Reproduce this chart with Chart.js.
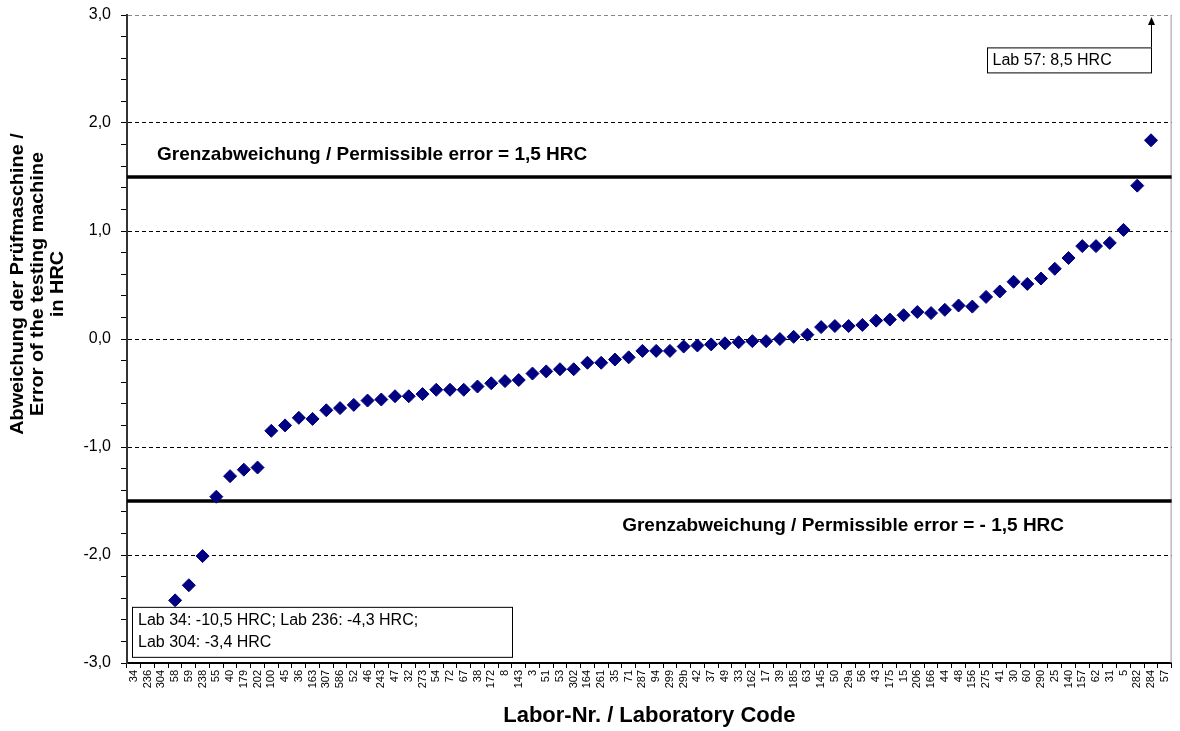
<!DOCTYPE html>
<html>
<head>
<meta charset="utf-8">
<script src="https://cdn.jsdelivr.net/npm/chart.js@4.4.1/dist/chart.umd.min.js"></script>
<style>
  html, body { margin: 0; padding: 0; background: #fff; }
  #wrap { width: 1180px; height: 731px; }
</style>
</head>
<body>
<div id="wrap"><canvas id="errChart" width="1180" height="731"></canvas></div>
<script>
// lab codes, in the order shown on the x axis
const labs = ["34","236","304","58","59","238","55","40","179","202",
  "100","45","36","163","307","586","52","46","243","47",
  "32","273","54","72","67","38","172","8","143","3",
  "51","53","302","164","261","35","71","287","94","299",
  "29b","42","37","49","33","162","17","39","185","63",
  "145","50","29a","56","43","175","15","206","166","44",
  "48","156","275","41","30","60","290","25","140","157",
  "62","31","5","282","284","57"];

// error in HRC (null = outside the plotted range, see notes)
const deviation = [null,null,null,-2.42,-2.28,-2.01,-1.46,-1.27,-1.21,-1.19,
  -0.85,-0.80,-0.73,-0.74,-0.66,-0.64,-0.61,-0.57,-0.56,-0.53,
  -0.53,-0.51,-0.47,-0.47,-0.47,-0.44,-0.41,-0.39,-0.38,-0.32,
  -0.30,-0.28,-0.28,-0.22,-0.22,-0.19,-0.17,-0.11,-0.11,-0.11,
  -0.07,-0.06,-0.05,-0.04,-0.03,-0.02,-0.02,0.00,0.02,0.04,
  0.11,0.12,0.12,0.13,0.17,0.18,0.22,0.25,0.24,0.27,
  0.31,0.30,0.39,0.44,0.53,0.51,0.56,0.65,0.75,0.86,
  0.86,0.89,1.01,1.42,1.84,null];

const limit = 1.5;
const yTitle = ["Abweichung der Prüfmaschine /", "Error of the testing machine", "in HRC"];
const xTitle = "Labor-Nr. / Laboratory Code";
const lowNote = ["Lab 34: -10,5 HRC; Lab 236: -4,3 HRC;", "Lab 304: -3,4 HRC"];
const highNote = "Lab 57: 8,5 HRC";

const isMajor = (v) => Math.abs(v - Math.round(v)) < 1e-6;

// limit lines, their captions, the notes and the y title
const extras = {
  id: "extras",
  beforeDatasetsDraw(chart) {
    const { ctx, chartArea: a, scales } = chart;
    const y = scales.y;
    ctx.save();
    // right frame
    ctx.strokeStyle = "#999";
    ctx.lineWidth = 1;
    ctx.beginPath();
    ctx.moveTo(a.right - 0.5, a.top);
    ctx.lineTo(a.right - 0.5, a.bottom);
    ctx.stroke();
    // permissible error lines
    ctx.strokeStyle = "#000";
    ctx.lineWidth = 3.5;
    [limit, -limit].forEach((v) => {
      const py = y.getPixelForValue(v);
      ctx.beginPath();
      ctx.moveTo(a.left, py);
      ctx.lineTo(a.right, py);
      ctx.stroke();
    });
    ctx.restore();
  },
  afterDatasetsDraw(chart) {
    const { ctx, chartArea: a, scales } = chart;
    const x = scales.x, y = scales.y;
    ctx.save();
    ctx.fillStyle = "#000";
    ctx.font = "bold 19px 'Liberation Sans', Arial, sans-serif";
    ctx.textBaseline = "middle";
    ctx.textAlign = "left";
    ctx.fillText("Grenzabweichung / Permissible error = 1,5 HRC", a.left + 30, y.getPixelForValue(limit) - 22);
    ctx.textAlign = "center";
    ctx.fillText("Grenzabweichung / Permissible error = - 1,5 HRC", x.getPixelForValue(51.6), y.getPixelForValue(-limit) + 25);

    // note box for the low outliers
    ctx.font = "16px 'Liberation Sans', Arial, sans-serif";
    ctx.textAlign = "left";
    ctx.lineWidth = 1;
    ctx.strokeStyle = "#000";
    const bx = a.left + 5, by = y.getPixelForValue(-2.48);
    ctx.fillStyle = "#fff";
    ctx.fillRect(bx, by, 380, 50);
    ctx.strokeRect(bx + 0.5, by + 0.5, 380, 50);
    ctx.fillStyle = "#000";
    ctx.fillText(lowNote[0], bx + 6, by + 14);
    ctx.fillText(lowNote[1], bx + 6, by + 36);

    // note box + arrow for lab 57
    const ax = Math.round(x.getPixelForValue(74.0)) + 0.5;
    const ty = y.getPixelForValue(2.7);
    ctx.fillStyle = "#fff";
    ctx.fillRect(ax - 164, ty, 164, 25);
    ctx.strokeRect(ax - 164, ty + 0.5, 164, 25);
    ctx.fillStyle = "#000";
    ctx.fillText(highNote, ax - 159, ty + 13);
    ctx.beginPath();
    ctx.moveTo(ax, ty);
    ctx.lineTo(ax, a.top + 8);
    ctx.stroke();
    ctx.beginPath();
    ctx.moveTo(ax, a.top + 2);
    ctx.lineTo(ax - 3.5, a.top + 10);
    ctx.lineTo(ax + 3.5, a.top + 10);
    ctx.closePath();
    ctx.fill();

    // y axis title, three lines
    ctx.font = "bold 18px 'Liberation Sans', Arial, sans-serif";
    ctx.translate(38, 284);
    ctx.rotate(-Math.PI / 2);
    ctx.scale(1.1, 1);
    ctx.textAlign = "center";
    yTitle.forEach((t, i) => ctx.fillText(t, 0, (i - 1) * 20));
    ctx.restore();
  }
};

new Chart(document.getElementById("errChart"), {
  type: "line",
  data: {
    labels: labs,
    datasets: [{
      data: deviation,
      showLine: false,
      pointStyle: "rectRot",
      pointRadius: 6.5,
      backgroundColor: "#000080",
      borderColor: "#000080",
      borderWidth: 1
    }]
  },
  options: {
    responsive: false,
    animation: false,
    layout: { padding: { top: 15, right: 3, left: 0, bottom: 0 } },
    plugins: { legend: { display: false }, tooltip: { enabled: false } },
    scales: {
      x: {
        type: "category",
        offset: true,
        afterFit(s) { s.height = 68; },
        grid: { offset: true, drawOnChartArea: false, drawTicks: true, tickLength: 5, tickColor: "#000" },
        border: { color: "#000", width: 2 },
        ticks: {
          autoSkip: false, minRotation: 90, maxRotation: 90, padding: 2,
          color: "#000", font: { family: "'Liberation Sans', Arial, sans-serif", size: 11 }
        },
        title: {
          display: true, text: xTitle, color: "#000", padding: { top: 0, bottom: 2 },
          font: { family: "'Liberation Sans', Arial, sans-serif", size: 22, weight: "bold" }
        }
      },
      y: {
        min: -3, max: 3,
        afterFit(s) { s.width = 127; s.paddingTop = 0; s.paddingBottom = 0; },
        border: { color: "#333", width: 2, dash: [4, 3] },
        grid: {
          color: (c) => {
            const v = c.tick.value;
            if (!isMajor(v) || v <= -3) return "rgba(0,0,0,0)";
            return v >= 3 ? "#888" : "#000";
          },
          lineWidth: 1,
          tickBorderDash: [],
          tickColor: "#000",
          tickLength: 6
        },
        ticks: {
          stepSize: 0.2, autoSkip: false, padding: 10, color: "#000",
          font: { family: "'Liberation Sans', Arial, sans-serif", size: 16 },
          callback: (v) => isMajor(v) ? Math.round(v).toFixed(1).replace(".", ",") : ""
        }
      }
    }
  },
  plugins: [extras]
});
</script>
</body>
</html>
